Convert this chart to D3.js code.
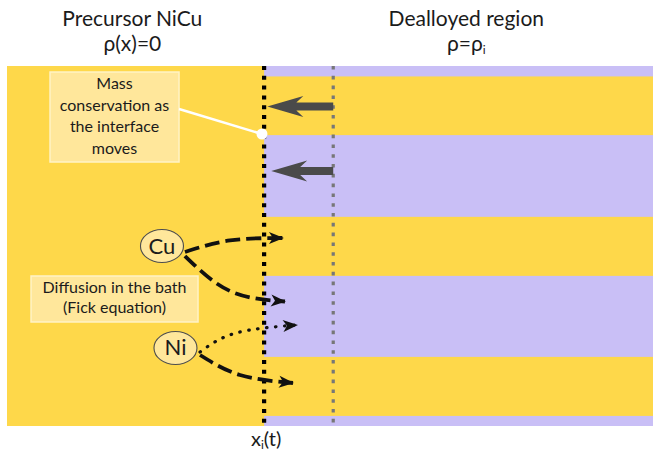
<!DOCTYPE html>
<html>
<head>
<meta charset="utf-8">
<script src="https://cdn.jsdelivr.net/npm/d3@7"></script>
<style>
body { margin: 0; background: #fff; }
svg text { font-family: Lato, "Open Sans", sans-serif; fill: #1b1b1b; }
</style>
</head>
<body>
<div id="chart"></div>
<script>
// everything is in "sample units": x 0..100 across the sample, y 0..100 down it
const lavenderBands = [[0, 2.9], [19.2, 41.9], [58.3, 80.8], [97.2, 100]];
const interfaceX = 39.8;      // x_i(t)
const oldInterfaceX = 50.5;   // where the front was before
const retreatY = [11.25, 29.2];
const retreatTip = [40.3, 40.9];

const headerTitles = ["Precursor NiCu", "Dealloyed region"];
const headerFormulas = ["ρ(x)=0", "ρ=ρ"];
const headerSubs = ["", "i"];
const headerX = [19.4, 71.1];

const massNoteLines = ["Mass", "conservation as", "the interface", "moves"];
const massNoteBox = [6.66, 26.63, 1.67, 26.67];
const fickNoteLines = ["Diffusion in the bath", "(Fick equation)"];
const fickNoteBox = [3.72, 29.57, 58.33, 71.11];
const massLink = [[26.63, 11.94], [39.47, 18.89]];

const species = ["Cu", "Ni"];
const speciesX = [23.99, 26.08];
const speciesY = [50.0, 78.33];

const fluxNames = ["Cu up", "Cu down", "Ni dotted", "Ni down"];
const fluxPoints = [
	[[27.55, 51.67], [34.52, 48.47], [42.72, 47.78]],
	[[27.55, 52.78], [34.52, 62.5], [43.03, 65.42]],
	[[29.88, 79.44], [35.45, 74.17], [44.89, 71.94]],
	[[29.88, 80.28], [36.07, 85.83], [44.27, 88.06]]
];
const fluxDash = ["15,6", "15,6", "0.5,8.5", "15,6"];

const W = 653, H = 458;
const YELLOW = "#FED84A", LAVENDER = "#C9BFF6", NOTE = "#FFE79B";

const svg = d3.select("#chart").append("svg")
	.attr("width", W).attr("height", H);

const x = d3.scaleLinear().domain([0, 100]).range([7, 653]);
const y = d3.scaleLinear().domain([0, 100]).range([66, 426]);

// arrow head for the flux curves
svg.append("defs").append("marker")
	.attr("id", "stealth")
	.attr("viewBox", "-15 -7 17 14")
	.attr("refX", 0).attr("refY", 0)
	.attr("markerWidth", 17).attr("markerHeight", 14)
	.attr("markerUnits", "userSpaceOnUse")
	.attr("orient", "auto")
	.append("path")
	.attr("d", "M1,0 L-14,-6 L-10,0 L-14,6 Z")
	.attr("fill", "#111");

// whole sample yellow, then lavender pores in the dealloyed part
svg.append("rect")
	.attr("x", x(0)).attr("y", y(0))
	.attr("width", x(100) - x(0)).attr("height", y(100) - y(0))
	.attr("fill", YELLOW);

svg.selectAll(".band")
	.data(lavenderBands)
	.enter().append("rect")
	.attr("class", "band")
	.attr("x", x(interfaceX))
	.attr("y", d => y(d[0]))
	.attr("width", x(100) - x(interfaceX))
	.attr("height", d => y(d[1]) - y(d[0]))
	.attr("fill", LAVENDER);

// old front (gray) and current front (black)
svg.append("line")
	.attr("x1", x(oldInterfaceX)).attr("x2", x(oldInterfaceX))
	.attr("y1", y(0)).attr("y2", y(100) + 1)
	.attr("stroke", "#777").attr("stroke-width", 3.2)
	.attr("stroke-dasharray", "3.6,6.2");

svg.append("line")
	.attr("x1", x(interfaceX)).attr("x2", x(interfaceX))
	.attr("y1", y(0)).attr("y2", y(100) + 2)
	.attr("stroke", "#000").attr("stroke-width", 4.2)
	.attr("stroke-dasharray", "4,5.8");

// big gray arrows: the front moves left
svg.selectAll(".retreat")
	.data(retreatY)
	.enter().append("path")
	.attr("class", "retreat")
	.attr("fill", "#4a4a4a")
	.attr("d", function(d, i) {
		const tip = x(retreatTip[i]), tail = x(oldInterfaceX), yy = y(d);
		return `M${tip},${yy} L${tip + 36},${yy - 10.5} L${tip + 29},${yy - 4}` +
			` L${tail},${yy - 4} L${tail},${yy + 4} L${tip + 29},${yy + 4}` +
			` L${tip + 36},${yy + 10.5} Z`;
	});

// headers above the picture
headerTitles.forEach(function(t, i) {
	svg.append("text")
		.attr("x", x(headerX[i])).attr("y", 26)
		.attr("text-anchor", "middle")
		.attr("font-size", 21)
		.text(t);
	const f = svg.append("text")
		.attr("x", x(headerX[i])).attr("y", 51)
		.attr("text-anchor", "middle")
		.attr("font-size", 21)
		.text(headerFormulas[i]);
	if (headerSubs[i]) {
		f.append("tspan").attr("font-size", 12).attr("dy", 3).text(headerSubs[i]);
	}
});

// note boxes
function drawNote(lines, box, lineGap, firstBase) {
	svg.append("rect")
		.attr("x", x(box[0])).attr("y", y(box[2]))
		.attr("width", x(box[1]) - x(box[0]))
		.attr("height", y(box[3]) - y(box[2]))
		.attr("fill", NOTE)
		.attr("stroke", "#FFF3C6").attr("stroke-width", 1.5);
	svg.selectAll(null)
		.data(lines)
		.enter().append("text")
		.attr("x", (x(box[0]) + x(box[1])) / 2)
		.attr("y", (d, i) => y(box[2]) + firstBase + i * lineGap)
		.attr("text-anchor", "middle")
		.attr("font-size", 16)
		.text(d => d);
}

drawNote(massNoteLines, massNoteBox, 21.7, 17);
drawNote(fickNoteLines, fickNoteBox, 20.5, 17);

// white connector from the mass note to the front
svg.append("line")
	.attr("x1", x(massLink[0][0])).attr("y1", y(massLink[0][1]))
	.attr("x2", x(massLink[1][0])).attr("y2", y(massLink[1][1]))
	.attr("stroke", "#fff").attr("stroke-width", 2.5);
svg.append("circle")
	.attr("cx", x(massLink[1][0])).attr("cy", y(massLink[1][1]))
	.attr("r", 5.5).attr("fill", "#fff");

// diffusion flux curves
const line = d3.line()
	.x(d => x(d[0])).y(d => y(d[1]))
	.curve(d3.curveNatural);

svg.selectAll(".flux")
	.data(fluxPoints)
	.enter().append("path")
	.attr("class", "flux")
	.attr("id", (d, i) => fluxNames[i].replace(" ", "_"))
	.attr("d", line)
	.attr("fill", "none")
	.attr("stroke", "#111")
	.attr("stroke-width", (d, i) => i == 2 ? 3.2 : 3.8)
	.attr("stroke-linecap", (d, i) => i == 2 ? "round" : "butt")
	.attr("stroke-dasharray", (d, i) => fluxDash[i])
	.attr("marker-end", "url(#stealth)");

// species bubbles
const sp = svg.selectAll(".species")
	.data(species)
	.enter().append("g")
	.attr("class", "species")
	.attr("transform", (d, i) => `translate(${x(speciesX[i])},${y(speciesY[i])})`);

sp.append("ellipse")
	.attr("rx", 21.5).attr("ry", 16.5)
	.attr("fill", NOTE)
	.attr("stroke", "#4d4d4d").attr("stroke-width", 1.1);

sp.append("text")
	.attr("text-anchor", "middle")
	.attr("dy", 7.5)
	.attr("font-size", 22)
	.text(d => d);

// interface position label
const lab = svg.append("text")
	.attr("x", x(interfaceX) + 2).attr("y", 446)
	.attr("text-anchor", "middle")
	.attr("font-size", 20)
	.text("x");
lab.append("tspan").attr("font-size", 12).attr("dy", 3).text("i");
lab.append("tspan").attr("dy", -3).text("(t)");
</script>
</body>
</html>
